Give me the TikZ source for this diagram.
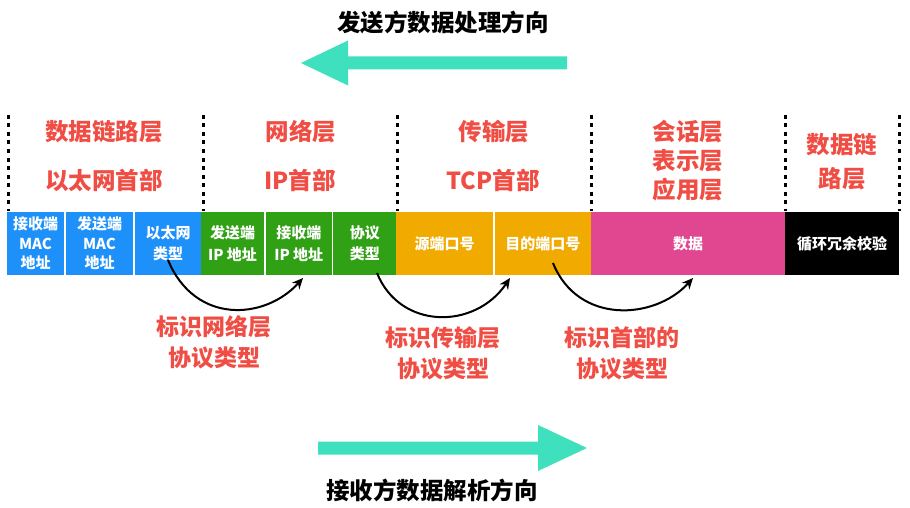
\documentclass[tikz,border=0pt]{standalone}
\usepackage{fontspec}
\setmainfont{Noto Sans CJK SC}
\usetikzlibrary{arrows.meta}
\definecolor{hred}{RGB}{240,78,68}
\definecolor{teal2}{RGB}{62,224,190}
\definecolor{cblue}{RGB}{30,144,250}
\definecolor{cgreen}{RGB}{48,160,20}
\definecolor{corange}{RGB}{240,170,0}
\definecolor{cpink}{RGB}{225,70,145}
\tikzset{
  cell/.style={inner sep=0pt, minimum height=63pt, text=white, align=center,
    font=\fontsize{15}{19.5}\selectfont\bfseries},
  cell2/.style={cell, font=\fontsize{15}{21.5}\selectfont\bfseries},
  hdr/.style={text=hred, align=center, inner sep=0pt, font=\fontsize{23.5}{29}\selectfont\bfseries},
  lbl/.style={text=hred, align=center, inner sep=0pt, font=\fontsize{23}{31}\selectfont\bfseries},
  ttl/.style={text=black, inner sep=0pt, font=\fontsize{23.5}{26}\selectfont\bfseries},
  sep/.style={line width=3pt, dash pattern=on 4pt off 4.5pt, black},
  curve/.style={line width=2pt, -{Stealth[length=11pt,width=10pt]}},
  bigarrow/.style={fill=teal2, draw=none}
}
\begin{document}
\begin{tikzpicture}[x=1pt,y=-1pt]
\useasboundingbox (0,0) rectangle (910,508);
% titles
\node[ttl] (top) at (443,23) {发送方数据处理方向};
\node[ttl] (bot) at (432,490) {接收方数据解析方向};
% big arrows
\fill[bigarrow] (567,56.5) -- (348,56.5) -- (348,40.5) -- (301,63) -- (348,85.5) -- (348,69.5) -- (567,69.5) -- cycle;
\fill[bigarrow] (318,441.5) -- (538,441.5) -- (538,425) -- (587,448) -- (538,471) -- (538,454.5) -- (318,454.5) -- cycle;
% dotted separators
\foreach \x in {8,203,397,591,785,899}
  \draw[sep] (\x,115) -- (\x,211);
% headers
\node[hdr] (h1a) at (104,132) {数据链路层};
\node[hdr] (h1b) at (104,180) {以太网首部};
\node[hdr] (h2a) at (301,132) {网络层};
\node[hdr] (h2b) at (300,180) {IP首部};
\node[hdr] (h3a) at (494,132) {传输层};
\node[hdr] (h3b) at (493,180) {TCP首部};
\node[hdr] (h4) at (688,161) {会话层\\表示层\\应用层};
\node[hdr, font=\fontsize{23.5}{34}\selectfont\bfseries] (h5) at (842,162) {数据链\\路层};
% cells
\node[cell, fill=cblue, minimum width=57pt] (c1) at (35.5,243.5) {接收端\\MAC\\地址};
\node[cell, fill=cblue, minimum width=67pt] (c2) at (99.5,243.5) {发送端\\MAC\\地址};
\node[cell2, fill=cblue, minimum width=66pt] (c3) at (168,243.5) {以太网\\类型};
\node[cell2, fill=cgreen, minimum width=63pt] (c4) at (232.5,243.5) {发送端\\IP 地址};
\node[cell2, fill=cgreen, minimum width=66.5pt] (c5) at (298.75,243.5) {接收端\\IP 地址};
\node[cell2, fill=cgreen, minimum width=63.5pt] (c6) at (364.75,243.5) {协议\\类型};
\node[cell, fill=corange, minimum width=97pt] (c7) at (444.5,243.5) {源端口号};
\node[cell, fill=corange, minimum width=96.5pt] (c8) at (542.75,243.5) {目的端口号};
\node[cell, fill=cpink, minimum width=194pt] (c9) at (688,243.5) {数据};
\node[cell, fill=black, minimum width=114pt] (c10) at (842,243.5) {循环冗余校验};
% curved connectors
\coordinate (a1s) at (168,260);
\coordinate (a1e) at (303,278);
\coordinate (a2s) at (377,273);
\coordinate (a2e) at (510,278);
\coordinate (a3s) at (553,263);
\coordinate (a3e) at (693,278);
\draw[curve] (a1s) .. controls (195,325) and (265,320) .. (a1e);
\draw[curve] (a2s) .. controls (400,330) and (475,330) .. (a2e);
\draw[curve] (a3s) .. controls (578,325) and (655,320) .. (a3e);
% labels
\node[lbl] (l1) at (214,342) {标识网络层\\协议类型};
\node[lbl] (l2) at (443,353) {标识传输层\\协议类型};
\node[lbl] (l3) at (622,353) {标识首部的\\协议类型};
\end{tikzpicture}
\end{document}
